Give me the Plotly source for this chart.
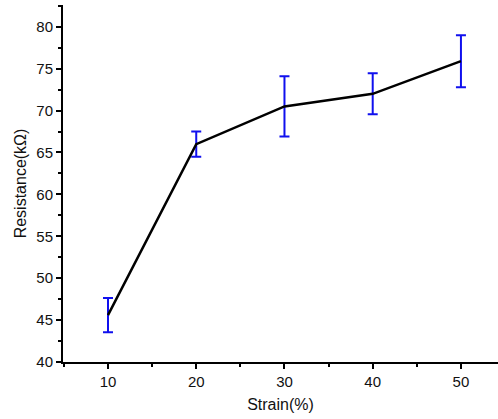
import plotly.graph_objects as go

# Strain (%) vs. resistance (kΩ) with standard-deviation error bars
strain = [10, 20, 30, 40, 50]
resistance = [45.6, 66.0, 70.5, 72.0, 75.9]
resistance_err = [2.05, 1.5, 3.6, 2.45, 3.1]

fig = go.Figure(
    go.Scatter(
        x=strain,
        y=resistance,
        mode="lines",
        line=dict(color="black", width=2.5),
        error_y=dict(
            type="data",
            array=resistance_err,
            visible=True,
            color="#1010ee",
            thickness=2,
            width=5,
        ),
        showlegend=False,
    )
)

axis_font = dict(family="Liberation Sans, Arial, sans-serif", size=15, color="#111")

fig.update_layout(
    width=498,
    height=419,
    margin=dict(l=63, r=0, t=5, b=57),
    paper_bgcolor="white",
    plot_bgcolor="white",
    font=axis_font,
    xaxis=dict(
        range=[4.9, 54.2],
        tickvals=[10, 20, 30, 40, 50],
        ticks="outside",
        ticklen=5,
        tickwidth=1.5,
        tickcolor="black",
        showline=True,
        linecolor="black",
        linewidth=2,
        showgrid=False,
        zeroline=False,
        minor=dict(dtick=5, tick0=0, ticks="outside", ticklen=3, tickwidth=1.5, tickcolor="black"),
        title=dict(text="Strain(%)", font=dict(size=16), standoff=10),
    ),
    yaxis=dict(
        range=[40, 82.6],
        tickvals=[40, 45, 50, 55, 60, 65, 70, 75, 80],
        ticks="outside",
        ticklen=5,
        tickwidth=1.5,
        tickcolor="black",
        showline=True,
        linecolor="black",
        linewidth=2,
        showgrid=False,
        zeroline=False,
        minor=dict(dtick=2.5, tick0=0, ticks="outside", ticklen=3, tickwidth=1.5, tickcolor="black"),
        title=dict(text="Resistance(kΩ)", font=dict(size=16), standoff=6),
    ),
)

fig.write_html("out.html")
